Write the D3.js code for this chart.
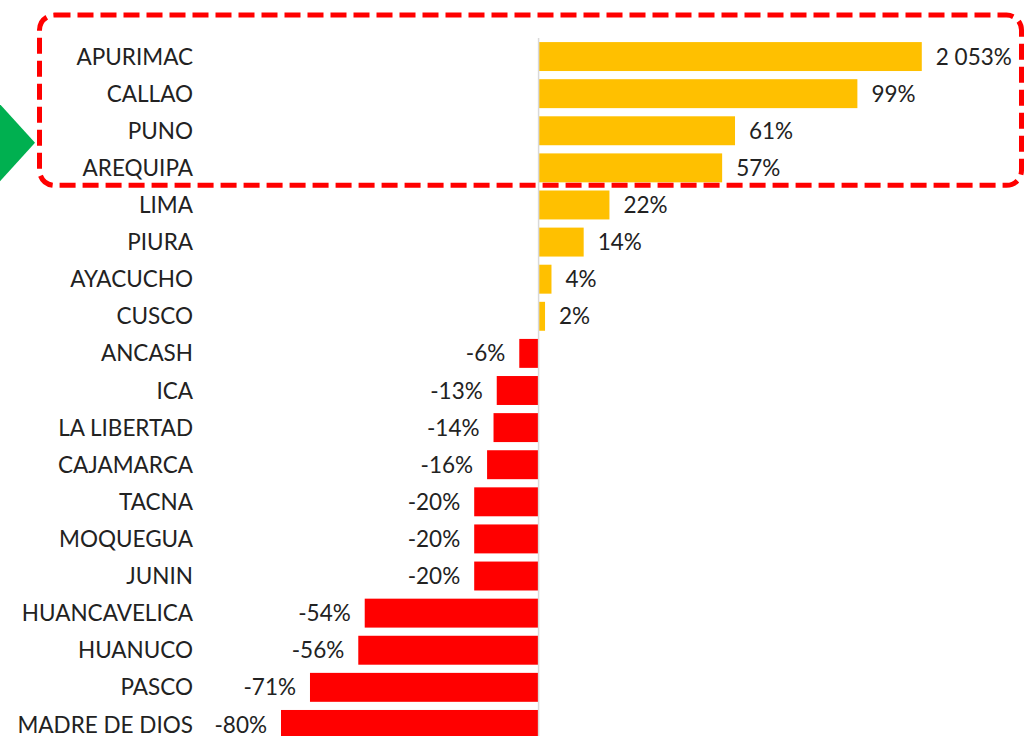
<!DOCTYPE html>
<html>
<head>
<meta charset="utf-8">
<script src="https://cdn.jsdelivr.net/npm/d3@7"></script>
<style>
  html, body { margin: 0; padding: 0; background: #fff; }
  svg { display: block; }
</style>
</head>
<body>
<div id="chart"></div>
<script>
// Regions, top to bottom
const regions = ["APURIMAC", "CALLAO", "PUNO", "AREQUIPA", "LIMA", "PIURA", "AYACUCHO", "CUSCO",
  "ANCASH", "ICA", "LA LIBERTAD", "CAJAMARCA", "TACNA", "MOQUEGUA", "JUNIN",
  "HUANCAVELICA", "HUANUCO", "PASCO", "MADRE DE DIOS"];

// Variation (%)
const values = [2053, 99, 61, 57, 22, 14, 4, 2,
  -6, -13, -14, -16, -20, -20, -20,
  -54, -56, -71, -80];

// highlighted group (dashed box)
const highlighted = ["APURIMAC", "CALLAO", "PUNO", "AREQUIPA"];

// the axis is cut: anything above this is drawn at this length
const axisCap = 119;

const W = 1025, H = 736;
const font = "Lato, 'Noto Sans', sans-serif";

const svg = d3.select("#chart").append("svg")
  .attr("width", W)
  .attr("height", H);

const x = d3.scaleLinear()
  .domain([-80, 120])
  .range([281, 925]);

const y = d3.scaleBand()
  .domain(regions)
  .range([38, 743])
  .paddingInner(0.22)
  .paddingOuter(0.11);

const data = regions.map((r, i) => ({ region: r, value: values[i] }));

// spanish-style: space as thousands separator, plain hyphen for minus
const locale = d3.formatLocale({ decimal: ",", thousands: " ", grouping: [3], currency: ["", ""], minus: "-" });
const fmt = v => locale.format(",d")(v) + "%";

// bars
svg.selectAll("rect.bar")
  .data(data)
  .enter()
  .append("rect")
  .attr("class", "bar")
  .attr("x", d => d.value >= 0 ? x(0) : x(d.value))
  .attr("y", d => y(d.region))
  .attr("width", d => Math.abs(x(Math.min(d.value, axisCap)) - x(0)))
  .attr("height", y.bandwidth())
  .attr("fill", d => d.value >= 0 ? "#FFC000" : "#FF0000");

// zero line
svg.append("line")
  .attr("x1", x(0)).attr("x2", x(0))
  .attr("y1", 38).attr("y2", H)
  .attr("stroke", "#d9d9d9")
  .attr("stroke-width", 1.5);

// category labels
svg.selectAll("text.cat")
  .data(data)
  .enter()
  .append("text")
  .attr("class", "cat")
  .attr("x", 193)
  .attr("y", d => y(d.region) + y.bandwidth() / 2)
  .attr("dy", "0.36em")
  .attr("text-anchor", "end")
  .attr("font-family", font)
  .attr("font-size", "22.5px")
  .attr("fill", "#222")
  .text(d => d.region);

// value labels
svg.selectAll("text.val")
  .data(data)
  .enter()
  .append("text")
  .attr("class", "val")
  .attr("x", d => d.value >= 0 ? x(Math.min(d.value, axisCap)) + 14 : x(d.value) - 14)
  .attr("y", d => y(d.region) + y.bandwidth() / 2)
  .attr("dy", "0.36em")
  .attr("text-anchor", d => d.value >= 0 ? "start" : "end")
  .attr("font-family", font)
  .attr("font-size", "22.5px")
  .attr("fill", "#222")
  .text(d => fmt(d.value));

// dashed highlight box around the top group
const first = highlighted[0], last = highlighted[highlighted.length - 1];
const boxTop = y(first) - 27;
const boxBottom = y(last) + y.bandwidth() + 3;
svg.append("rect")
  .attr("x", 39.5)
  .attr("y", boxTop)
  .attr("width", 982)
  .attr("height", boxBottom - boxTop)
  .attr("rx", 15)
  .attr("fill", "none")
  .attr("stroke", "#FF0000")
  .attr("stroke-width", 5)
  .attr("stroke-dasharray", "16 7");

// green pointer arrow
const cy = y(highlighted[2]) + y.bandwidth() / 2 + 12;
svg.append("path")
  .attr("d", `M-5,${cy - 44} L35,${cy} L-5,${cy + 44} Z`)
  .attr("fill", "#00B050");
</script>
</body>
</html>
